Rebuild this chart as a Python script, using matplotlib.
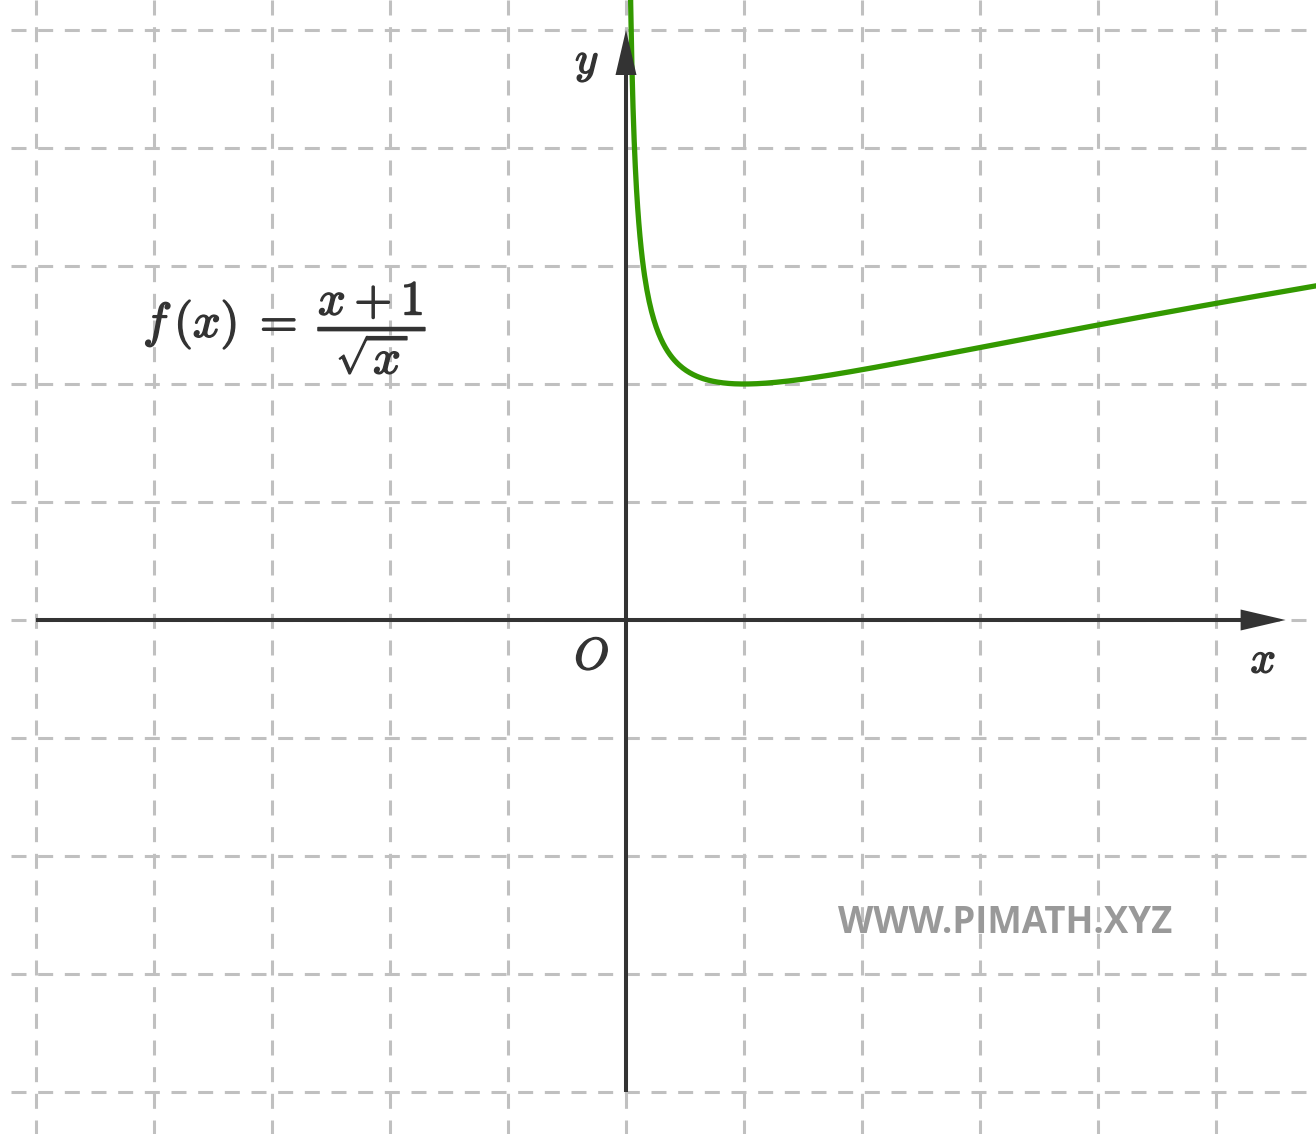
import numpy as np
import matplotlib
matplotlib.use('Agg')
import matplotlib.pyplot as plt
import matplotlib.patheffects as pe

plt.rcParams['mathtext.fontset'] = 'cm'
plt.rcParams['lines.scale_dashes'] = False

# grid / axes extents (units)
grid_x = [-5, -4, -3, -2, -1, 0, 1, 2, 3, 4, 5]
grid_y = [-4, -3, -2, -1, 0, 1, 2, 3, 4, 5]
x_axis_end = 5.59
y_axis_end = 5.0

# the plotted function f(x) = (x+1)/sqrt(x)
x_vals = np.linspace(0.03, 5.9, 600)
y_vals = (x_vals + 1) / np.sqrt(x_vals)

formula = r'$f\,(x)\;=\;\dfrac{x+1}{\sqrt{x}}$'
watermark = 'WWW.PIMATH.XYZ'

ink = '#333333'
grid_col = '#c0c0c0'
curve_col = '#339900'
px = 118.0  # pixels per unit

fig = plt.figure(figsize=(13.16, 11.34), dpi=100)
ax = fig.add_axes([0, 0, 1, 1])
ax.set_xlim(-626 / px, (1316 - 626) / px)
ax.set_ylim(-(1134 - 620) / px, 620 / px)
ax.axis('off')

dash = (0, (10.8, 8.4))
x0, x1 = ax.get_xlim()
y0, y1 = ax.get_ylim()
for gx in grid_x:
    ax.plot([gx, gx], [y1, y0], color=grid_col, lw=2.2, ls=dash, zorder=1)
for gy in grid_y:
    ax.plot([x0 + 10.7 / px, x1], [gy, gy], color=grid_col, lw=2.2, ls=dash, zorder=1)

# curve
ax.plot(x_vals, y_vals, color=curve_col, lw=3.8, zorder=2, solid_capstyle='butt')

# axes with arrow heads
alen = 45 / px
aw = 10.5 / px
ax.plot([grid_x[0], x_axis_end - alen], [0, 0], color=ink, lw=2.9, zorder=3, solid_capstyle='butt')
ax.fill([x_axis_end - alen, x_axis_end, x_axis_end - alen], [aw, 0, -aw], color=ink, lw=0, zorder=3)
ax.plot([0, 0], [grid_y[0], y_axis_end - alen], color=ink, lw=2.9, zorder=3, solid_capstyle='butt')
ax.fill([-aw, 0, aw], [y_axis_end - alen, y_axis_end, y_axis_end - alen], color=ink, lw=0, zorder=3)

# labels (slightly emboldened like the original)
bold = [pe.withStroke(linewidth=1.1, foreground=ink)]
ax.text(-0.33, 4.72, r'$y$', fontsize=32, color=ink, ha='center', va='center',
        zorder=4, path_effects=bold)
ax.text(-0.29, -0.31, r'$O$', fontsize=32, color=ink, ha='center', va='center',
        zorder=4, path_effects=bold)
ax.text(5.40, -0.34, r'$x$', fontsize=32, color=ink, ha='center', va='center',
        zorder=4, path_effects=bold)
ax.text(-2.89, 2.47, formula, fontsize=35, color=ink, ha='center', va='center',
        zorder=4, path_effects=bold)

ax.text((1005 - 626) / px, (620 - 923) / px, watermark, fontsize=26.3, color='#999999',
        family='Open Sans', fontweight='bold', ha='center', va='center', zorder=4)

fig.savefig('out.png', dpi=100, facecolor='white')
